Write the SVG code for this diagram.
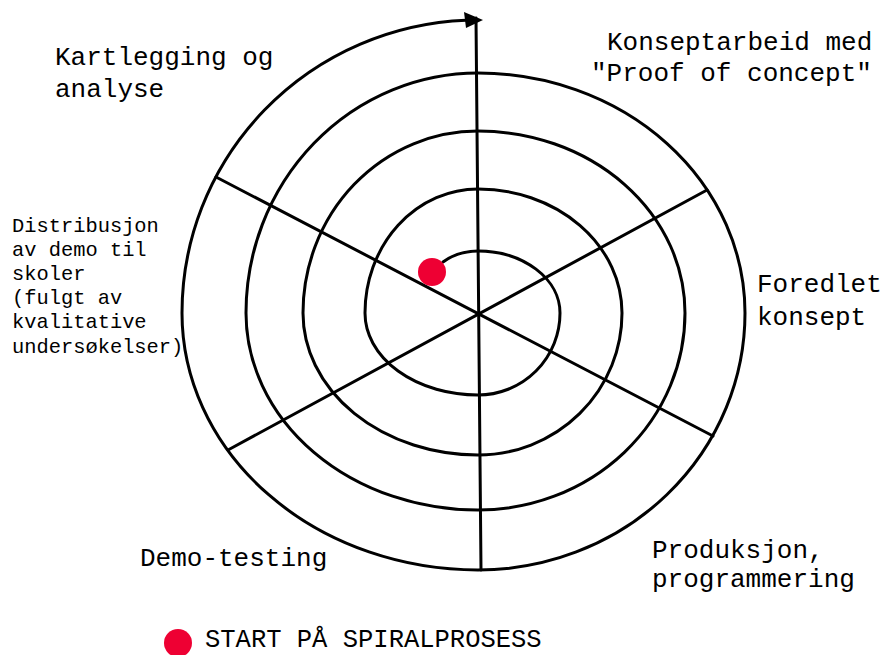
<svg xmlns="http://www.w3.org/2000/svg" width="884" height="655" viewBox="0 0 884 655">
<style>
.ln{fill:none;stroke:#000;stroke-width:3;stroke-linecap:round;stroke-linejoin:round}
.t{font-family:"Liberation Mono","Courier New",monospace;font-size:26px;fill:#000}
.s{font-family:"Liberation Mono","Courier New",monospace;font-size:20.4px;fill:#000}
.dot{fill:#ee0033}
</style>
<rect width="884" height="655" fill="#fff"/>
<g id="connectors">
<line class="ln" x1="476" y1="18" x2="481" y2="570"/>
<line class="ln" x1="216" y1="177" x2="713" y2="436"/>
<line class="ln" x1="707" y1="190" x2="228" y2="450"/>
<path id="spiral" class="ln" d="M 443 262 Q 458 251 478 251 A 82 62 0 0 1 560 313 A 82 82 0 0 1 478 395 A 113 82 0 0 1 365 313 A 113 124 0 0 1 478 189 A 144 124 0 0 1 622 313 A 144 142 0 0 1 478 455 A 175 142 0 0 1 303 313 A 175 182 0 0 1 478 131 A 207 182 0 0 1 685 313 A 207 197 0 0 1 478 510 A 232 197 0 0 1 246 313 A 232 240 0 0 1 478 73 A 267 240 0 0 1 745 313 A 267 257 0 0 1 478 570 A 296 257 0 0 1 182 313 A 296 293 0 0 1 466 20.2"/>
<polygon points="464,12 483,20 466,28" fill="#000"/>
</g>
<g id="start-dot"><circle class="dot" cx="432" cy="272" r="14"/></g>
<g id="kartlegging"><text class="t" x="55" y="65">Kartlegging og</text><text class="t" x="55" y="97">analyse</text></g>
<g id="konseptarbeid"><text class="t" x="607" y="50">Konseptarbeid med</text><text class="t" x="591" y="81">"Proof of concept"</text></g>
<g id="foredlet"><text class="t" x="757" y="292">Foredlet</text><text class="t" x="757" y="325">konsept</text></g>
<g id="produksjon"><text class="t" x="652" y="558">Produksjon,</text><text class="t" x="652" y="587">programmering</text></g>
<g id="demo-testing"><text class="t" x="140" y="566">Demo-testing</text></g>
<g id="distribusjon">
<text class="s" x="12" y="232">Distribusjon</text>
<text class="s" x="12" y="256">av demo til</text>
<text class="s" x="12" y="280">skoler</text>
<text class="s" x="12" y="304">(fulgt av</text>
<text class="s" x="12" y="328">kvalitative</text>
<text class="s" x="12" y="353">undersøkelser)</text>
</g>
<g id="legend"><circle class="dot" cx="178" cy="643" r="14"/><text class="t" x="205" y="647" style="font-size:25.5px">START PÅ SPIRALPROSESS</text></g>
</svg>
